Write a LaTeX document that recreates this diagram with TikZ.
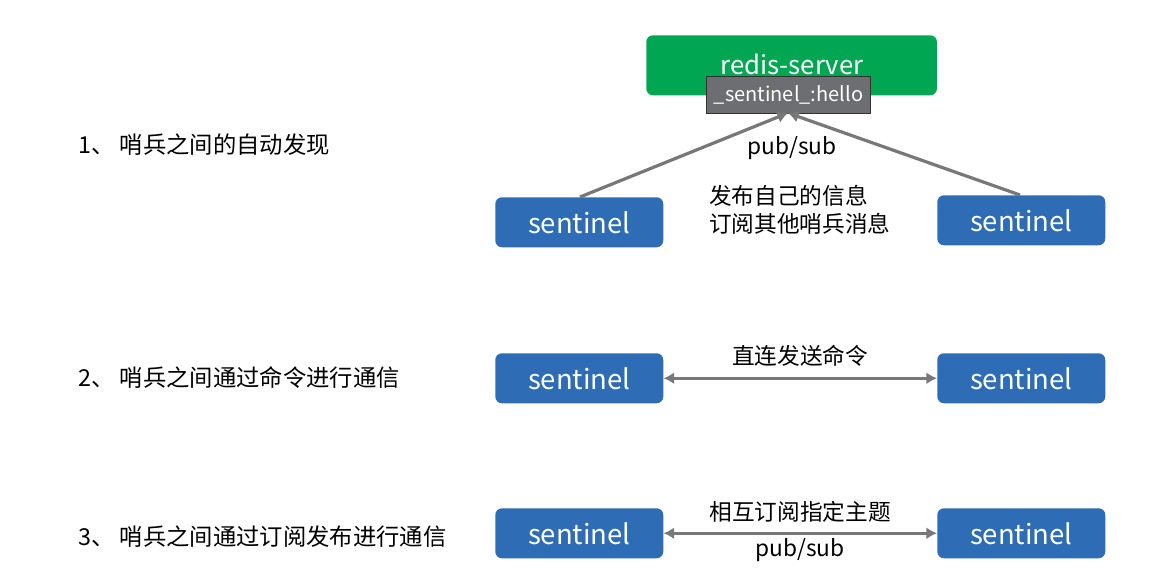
\documentclass[tikz,border=0pt]{standalone}
\usepackage{fontspec}
\setmainfont{Noto Sans CJK SC}
\usetikzlibrary{arrows.meta}
\definecolor{rgreen}{RGB}{0,166,81}
\definecolor{sblue}{RGB}{46,109,181}
\definecolor{hgray}{RGB}{109,110,113}
\definecolor{agray}{RGB}{120,120,120}
\tikzset{
  sbox/.style={draw=none, fill=sblue, rounded corners=5pt, text=white, minimum width=126pt, minimum height=37.5pt, inner sep=0pt, font=\fontsize{20.6}{24}\selectfont},
  rbox/.style={fill=rgreen, rounded corners=5pt, text=white, minimum width=218pt, minimum height=45pt, inner sep=0pt, font=\fontsize{19}{22}\selectfont},
  hbox/.style={fill=hgray, draw=black!80, line width=0.8pt, text=white, minimum width=123pt, minimum height=27.5pt, inner sep=0pt, font=\fontsize{15}{18}\selectfont},
  lbl/.style={font=\fontsize{17}{21}\selectfont, inner sep=0pt},
  side/.style={font=\fontsize{17.5}{21}\selectfont, inner sep=0pt},
  conn/.style={draw=agray, line width=2.4pt, -{Latex[length=8pt,width=9pt]}},
  dconn/.style={draw=agray, line width=2.4pt, {Latex[length=8pt,width=9pt]}-{Latex[length=8pt,width=9pt]}},
}
\begin{document}
\begin{tikzpicture}[x=0.75pt,y=-0.75pt]
\useasboundingbox (0,0) rectangle (1168,574);
% top
\node[rbox, anchor=north west] (rs) at (646,35) {};
\node[font=\fontsize{19.3}{22}\selectfont, text=white, inner sep=0pt] (rst) at (792,64) {redis-server};
\node[hbox, anchor=north west] (hello) at (706,76) {\_sentinel\_:hello};
\node[sbox, anchor=north west] (s1l) at (495,197) {sentinel};
\node[sbox, anchor=north west] (s1r) at (937,195) {sentinel};
\coordinate (c1l) at (580,197);
\coordinate (c1r) at (1020,195);
\coordinate (tip) at (788,113);
\draw[conn] (c1l) -- (tip);
\draw[conn] (c1r) -- (tip);
\node[lbl] (ps1) at (792,148) {pub/sub};
\node[lbl, anchor=west, align=left] (info) at (709,210) {发布自己的信息\\订阅其他哨兵消息};
% row 2
\node[sbox, anchor=north west] (s2l) at (495,353) {sentinel};
\node[sbox, anchor=north west] (s2r) at (937,353) {sentinel};
\draw[dconn] (s2l.east) -- (s2r.west);
\node[lbl] (t2) at (800,356) {直连发送命令};
% row 3
\node[sbox, anchor=north west] (s3l) at (495,508) {sentinel};
\node[sbox, anchor=north west] (s3r) at (937,508) {sentinel};
\draw[dconn] (s3l.east) -- (s3r.west);
\node[lbl] (t3) at (800,512) {相互订阅指定主题};
\node[lbl] (ps3) at (800,550) {pub/sub};
% left labels
\node[side, anchor=west] (l1) at (78,145) {1、 哨兵之间的自动发现};
\node[side, anchor=west] (l2) at (78,378) {2、 哨兵之间通过命令进行通信};
\node[side, anchor=west] (l3) at (78,537) {3、 哨兵之间通过订阅发布进行通信};
\end{tikzpicture}
\end{document}
